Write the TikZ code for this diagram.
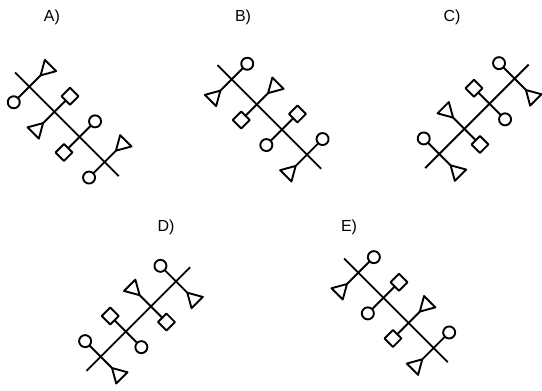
\documentclass[tikz,border=0pt]{standalone}
\usepackage{fontspec}
\setmainfont{Liberation Sans}
\newcommand\eC[2]{\draw (#1,#2*22) circle[radius=6pt];}
\newcommand\eS[2]{\draw (#1-6,#2*16) -- (#1+6,#2*16) -- (#1+6,#2*28) -- (#1-6,#2*28) -- cycle;}
\newcommand\eT[2]{\draw (#1,#2*16) -- (#1-8,#2*30) -- (#1+8,#2*30) -- cycle;}
% \crs{pos}{elem on + side}{elem on - side}
\newcommand\crs[3]{\draw (#1,-16) -- (#1,16); #2{#1}{1} #3{#1}{-1}}
\begin{document}
\begin{tikzpicture}[x=1pt,y=1pt,line width=1.9pt,line join=round,
  lbl/.style={font=\fontsize{16}{18}\selectfont}]
\useasboundingbox (0,0) rectangle (542,-391);
\node[lbl] (la) at (52,-17) {A)};
\node[lbl] (lb) at (243,-17) {B)};
\node[lbl] (lc) at (452,-17) {C)};
\node[lbl] (ld) at (166,-227) {D)};
\node[lbl] (le) at (349,-227) {E)};
% A
\begin{scope}[shift={(29.3,-86.7)},rotate=-45]
\draw (-20,0) -- (126.5,0);
\crs{0}{\eT}{\eC}
\crs{35.5}{\eS}{\eT}
\crs{71}{\eC}{\eS}
\crs{106.5}{\eT}{\eC}
\end{scope}
% B
\begin{scope}[shift={(231.7,-79.3)},rotate=-45]
\draw (-20,0) -- (126.5,0);
\crs{0}{\eC}{\eT}
\crs{35.5}{\eT}{\eS}
\crs{71}{\eS}{\eC}
\crs{106.5}{\eC}{\eT}
\end{scope}
% C
\begin{scope}[shift={(439.3,-154)},rotate=45]
\draw (-20,0) -- (126.5,0);
\crs{0}{\eC}{\eT}
\crs{35.5}{\eT}{\eS}
\crs{71}{\eS}{\eC}
\crs{106.5}{\eC}{\eT}
\end{scope}
% D
\begin{scope}[shift={(100.7,-356.7)},rotate=45]
\draw (-20,0) -- (126.5,0);
\crs{0}{\eC}{\eT}
\crs{35.5}{\eS}{\eC}
\crs{71}{\eT}{\eS}
\crs{106.5}{\eC}{\eT}
\end{scope}
% E
\begin{scope}[shift={(358.3,-272.7)},rotate=-45]
\draw (-20,0) -- (126.5,0);
\crs{0}{\eC}{\eT}
\crs{35.5}{\eS}{\eC}
\crs{71}{\eT}{\eS}
\crs{106.5}{\eC}{\eT}
\end{scope}
\end{tikzpicture}
\end{document}
